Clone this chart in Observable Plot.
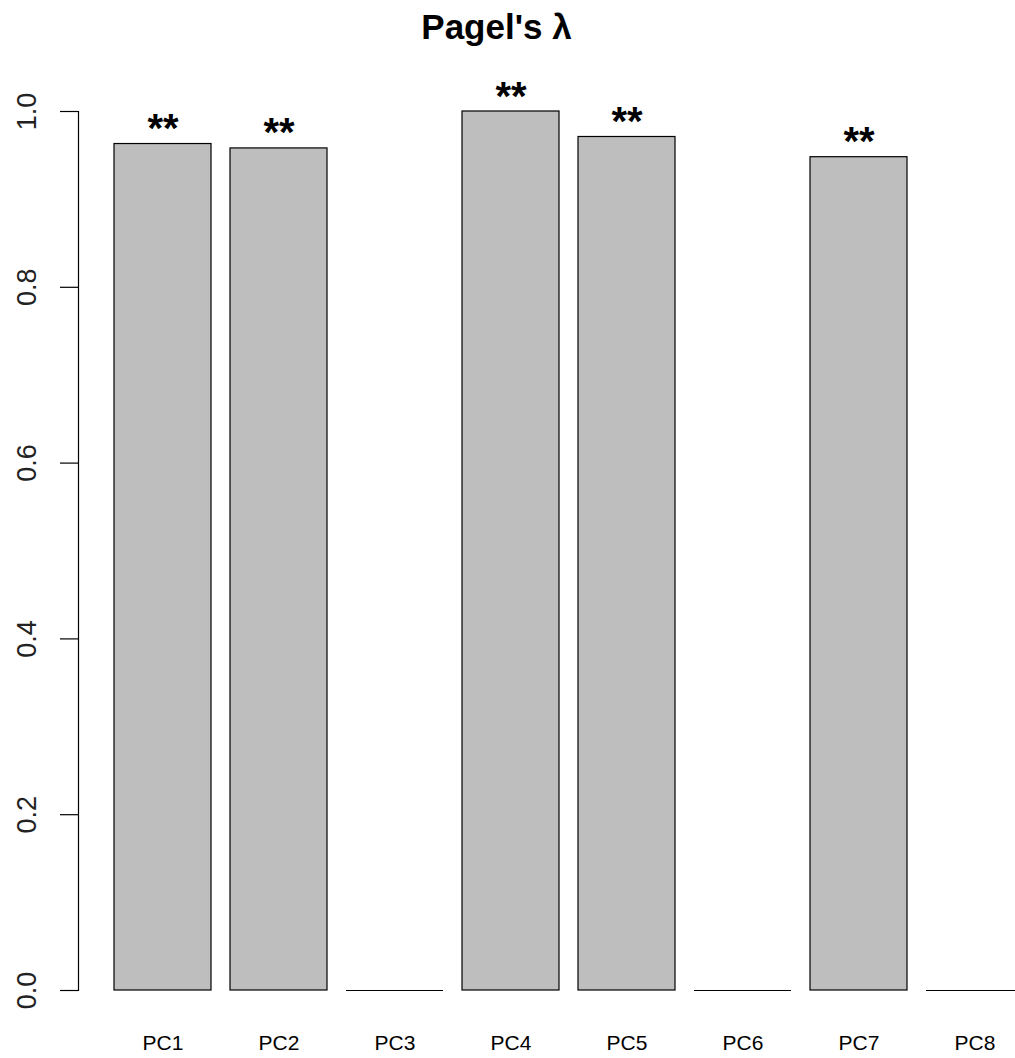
<!DOCTYPE html>
<html>
<head>
<meta charset="utf-8">
<script src="https://cdn.jsdelivr.net/npm/d3@7"></script>
<script src="https://cdn.jsdelivr.net/npm/@observablehq/plot@0.6"></script>
<style>
  html, body { margin: 0; padding: 0; background: white; overflow: hidden; }
  #wrap { position: relative; width: 1015px; height: 1058px; }
  #title { position: absolute; top: 9px; left: 0; width: 993px; text-align: center;
           font-family: "Liberation Sans", Arial, sans-serif; font-weight: bold; font-size: 35px; line-height: 36px; }
  #chart { position: absolute; top: 70px; left: 0; }
</style>
</head>
<body>
<div id="wrap">
  <div id="title">Pagel's λ</div>
  <div id="chart"></div>
</div>
<script>
const components = ["PC1", "PC2", "PC3", "PC4", "PC5", "PC6", "PC7", "PC8"];
const lambdaValues = [0.963, 0.958, 0, 1.0, 0.971, 0, 0.948, 0];
const significance = ["**", "**", "", "**", "**", "", "**", ""];
const yTicks = [0, 0.2, 0.4, 0.6, 0.8, 1.0];

const data = components.map((pc, i) => ({pc, value: lambdaValues[i], sig: significance[i]}));
const font = "Liberation Sans, Arial, sans-serif";

const chart = Plot.plot({
  width: 1015,
  height: 988,
  marginLeft: 78,
  marginRight: 0,
  marginTop: 41,
  marginBottom: 68,
  style: {fontFamily: font, background: "white", overflow: "hidden"},
  x: {type: "band", domain: components, range: [113, 1024], paddingInner: 1/6, paddingOuter: 0},
  y: {domain: [0, 1]},
  marks: [
    Plot.barY(data.filter(d => d.value > 0), {x: "pc", y: "value", fill: "#bebebe", stroke: "black", strokeWidth: 1.2}),
    Plot.tickY(data.filter(d => d.value === 0), {x: "pc", y: "value", stroke: "black", strokeWidth: 1.2}),
    Plot.text(data.filter(d => d.sig), {x: "pc", y: "value", text: "sig", fontSize: 40, fontWeight: "bold",
      lineAnchor: "bottom", dy: -2, fill: "black"}),
    Plot.frame({anchor: "left", stroke: "black", strokeWidth: 1.2}),
    Plot.axisY({ticks: yTicks, tickSize: 18, tickFormat: () => "", label: null, stroke: "black", strokeWidth: 1.2}),
    Plot.text(yTicks, {y: d => d, text: d3.format(".1f"), frameAnchor: "left", rotate: -90,
      textAnchor: "middle", lineAnchor: "middle", dx: -51, fontSize: 27, fill: "#222"}),
    Plot.axisX({tickSize: 0, tickPadding: 45, fontSize: 21, label: null, fill: "black"})
  ]
});
document.getElementById("chart").appendChild(chart);
</script>
</body>
</html>
